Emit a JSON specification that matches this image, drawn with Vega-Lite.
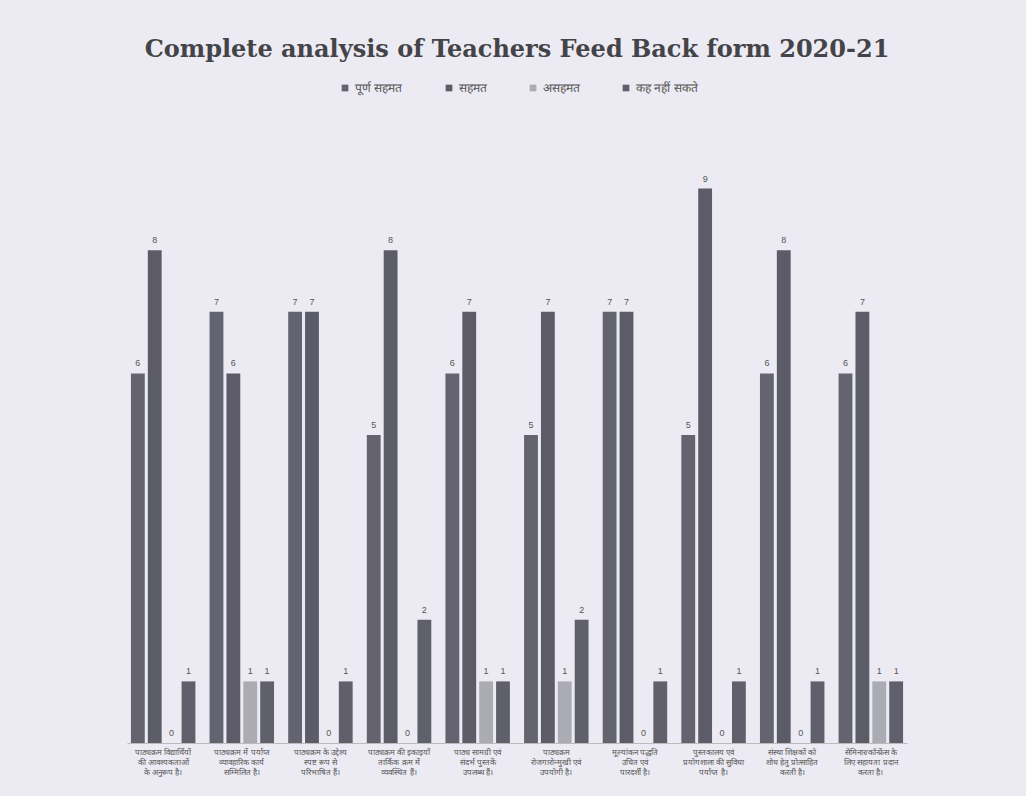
{
  "$schema": "https://vega.github.io/schema/vega-lite/v6.json",
  "autosize": "none",
  "width": 780,
  "height": 616,
  "padding": {"left": 127, "top": 127, "right": 119, "bottom": 53},
  "background": "#ecebf3",
  "title": {
    "text": "Complete analysis of Teachers Feed Back form 2020-21",
    "font": "DejaVu Serif",
    "fontSize": 24,
    "fontWeight": "bold",
    "color": "#444448",
    "anchor": "middle",
    "offset": 20
  },
  "config": {"view": {"stroke": null}},
  "datasets": {
    "rows": [
      {"q": "पाठ्यक्रम विद्यार्थियों\nकी आवश्यकताओं\nके अनुरूप है।", "s": "पूर्ण सहमत", "v": 6},
      {"q": "पाठ्यक्रम विद्यार्थियों\nकी आवश्यकताओं\nके अनुरूप है।", "s": "सहमत", "v": 8},
      {"q": "पाठ्यक्रम विद्यार्थियों\nकी आवश्यकताओं\nके अनुरूप है।", "s": "असहमत", "v": 0},
      {"q": "पाठ्यक्रम विद्यार्थियों\nकी आवश्यकताओं\nके अनुरूप है।", "s": "कह नहीं सकते", "v": 1},
      {"q": "पाठ्यक्रम में पर्याप्त\nव्यावहारिक कार्य\nसम्मिलित है।", "s": "पूर्ण सहमत", "v": 7},
      {"q": "पाठ्यक्रम में पर्याप्त\nव्यावहारिक कार्य\nसम्मिलित है।", "s": "सहमत", "v": 6},
      {"q": "पाठ्यक्रम में पर्याप्त\nव्यावहारिक कार्य\nसम्मिलित है।", "s": "असहमत", "v": 1},
      {"q": "पाठ्यक्रम में पर्याप्त\nव्यावहारिक कार्य\nसम्मिलित है।", "s": "कह नहीं सकते", "v": 1},
      {"q": "पाठ्यक्रम के उद्देश्य\nस्पष्ट रूप से\nपरिभाषित हैं।", "s": "पूर्ण सहमत", "v": 7},
      {"q": "पाठ्यक्रम के उद्देश्य\nस्पष्ट रूप से\nपरिभाषित हैं।", "s": "सहमत", "v": 7},
      {"q": "पाठ्यक्रम के उद्देश्य\nस्पष्ट रूप से\nपरिभाषित हैं।", "s": "असहमत", "v": 0},
      {"q": "पाठ्यक्रम के उद्देश्य\nस्पष्ट रूप से\nपरिभाषित हैं।", "s": "कह नहीं सकते", "v": 1},
      {"q": "पाठ्यक्रम की इकाइयाँ\nतार्किक क्रम में\nव्यवस्थित हैं।", "s": "पूर्ण सहमत", "v": 5},
      {"q": "पाठ्यक्रम की इकाइयाँ\nतार्किक क्रम में\nव्यवस्थित हैं।", "s": "सहमत", "v": 8},
      {"q": "पाठ्यक्रम की इकाइयाँ\nतार्किक क्रम में\nव्यवस्थित हैं।", "s": "असहमत", "v": 0},
      {"q": "पाठ्यक्रम की इकाइयाँ\nतार्किक क्रम में\nव्यवस्थित हैं।", "s": "कह नहीं सकते", "v": 2},
      {"q": "पाठ्य सामग्री एवं\nसंदर्भ पुस्तकें\nउपलब्ध हैं।", "s": "पूर्ण सहमत", "v": 6},
      {"q": "पाठ्य सामग्री एवं\nसंदर्भ पुस्तकें\nउपलब्ध हैं।", "s": "सहमत", "v": 7},
      {"q": "पाठ्य सामग्री एवं\nसंदर्भ पुस्तकें\nउपलब्ध हैं।", "s": "असहमत", "v": 1},
      {"q": "पाठ्य सामग्री एवं\nसंदर्भ पुस्तकें\nउपलब्ध हैं।", "s": "कह नहीं सकते", "v": 1},
      {"q": "पाठ्यक्रम\nरोजगारोन्मुखी एवं\nउपयोगी है।", "s": "पूर्ण सहमत", "v": 5},
      {"q": "पाठ्यक्रम\nरोजगारोन्मुखी एवं\nउपयोगी है।", "s": "सहमत", "v": 7},
      {"q": "पाठ्यक्रम\nरोजगारोन्मुखी एवं\nउपयोगी है।", "s": "असहमत", "v": 1},
      {"q": "पाठ्यक्रम\nरोजगारोन्मुखी एवं\nउपयोगी है।", "s": "कह नहीं सकते", "v": 2},
      {"q": "मूल्यांकन पद्धति\nउचित एवं\nपारदर्शी है।", "s": "पूर्ण सहमत", "v": 7},
      {"q": "मूल्यांकन पद्धति\nउचित एवं\nपारदर्शी है।", "s": "सहमत", "v": 7},
      {"q": "मूल्यांकन पद्धति\nउचित एवं\nपारदर्शी है।", "s": "असहमत", "v": 0},
      {"q": "मूल्यांकन पद्धति\nउचित एवं\nपारदर्शी है।", "s": "कह नहीं सकते", "v": 1},
      {"q": "पुस्तकालय एवं\nप्रयोगशाला की सुविधा\nपर्याप्त है।", "s": "पूर्ण सहमत", "v": 5},
      {"q": "पुस्तकालय एवं\nप्रयोगशाला की सुविधा\nपर्याप्त है।", "s": "सहमत", "v": 9},
      {"q": "पुस्तकालय एवं\nप्रयोगशाला की सुविधा\nपर्याप्त है।", "s": "असहमत", "v": 0},
      {"q": "पुस्तकालय एवं\nप्रयोगशाला की सुविधा\nपर्याप्त है।", "s": "कह नहीं सकते", "v": 1},
      {"q": "संस्था शिक्षकों को\nशोध हेतु प्रोत्साहित\nकरती है।", "s": "पूर्ण सहमत", "v": 6},
      {"q": "संस्था शिक्षकों को\nशोध हेतु प्रोत्साहित\nकरती है।", "s": "सहमत", "v": 8},
      {"q": "संस्था शिक्षकों को\nशोध हेतु प्रोत्साहित\nकरती है।", "s": "असहमत", "v": 0},
      {"q": "संस्था शिक्षकों को\nशोध हेतु प्रोत्साहित\nकरती है।", "s": "कह नहीं सकते", "v": 1},
      {"q": "सेमिनार/कॉन्फ्रेंस के\nलिए सहायता प्रदान\nकरता है।", "s": "पूर्ण सहमत", "v": 6},
      {"q": "सेमिनार/कॉन्फ्रेंस के\nलिए सहायता प्रदान\nकरता है।", "s": "सहमत", "v": 7},
      {"q": "सेमिनार/कॉन्फ्रेंस के\nलिए सहायता प्रदान\nकरता है।", "s": "असहमत", "v": 1},
      {"q": "सेमिनार/कॉन्फ्रेंस के\nलिए सहायता प्रदान\nकरता है।", "s": "कह नहीं सकते", "v": 1}
    ]
  },
  "data": {"name": "rows"},
  "encoding": {
    "x": {
      "field": "q",
      "type": "nominal",
      "sort": null,
      "scale": {"paddingInner": 0.18, "paddingOuter": 0.05},
      "axis": {
        "title": null,
        "labelAngle": 0,
        "labelOverlap": false,
        "labelLimit": 0,
        "labelExpr": "split(datum.label, '\\n')",
        "labelFontSize": 8,
        "labelLineHeight": 10,
        "labelColor": "#555555",
        "labelPadding": 5,
        "ticks": false,
        "domainColor": "#bbbbbb"
      }
    },
    "xOffset": {"field": "s", "type": "nominal", "sort": ["पूर्ण सहमत", "सहमत", "असहमत", "कह नहीं सकते"], "scale": {"paddingInner": 0.18}},
    "y": {
      "field": "v",
      "type": "quantitative",
      "scale": {"domain": [0, 10]},
      "axis": null
    }
  },
  "layer": [
    {
      "mark": {"type": "bar"},
      "encoding": {
        "color": {
          "field": "s",
          "type": "nominal",
          "sort": ["पूर्ण सहमत", "सहमत", "असहमत", "कह नहीं सकते"],
          "scale": {"domain": ["पूर्ण सहमत", "सहमत", "असहमत", "कह नहीं सकते"], "range": ["#646470", "#5c5c68", "#ababb4", "#60606c"]},
          "legend": {
            "title": null,
            "orient": "none",
            "direction": "horizontal",
            "legendX": 212,
            "legendY": -45,
            "symbolType": "square",
            "symbolSize": 45,
            "labelFontSize": 12,
            "labelColor": "#555555",
            "columnPadding": 40
          }
        }
      }
    },
    {
      "mark": {"type": "text", "dy": -10, "fontSize": 9, "color": "#555555"},
      "encoding": {"text": {"field": "v", "type": "quantitative"}}
    }
  ]
}
